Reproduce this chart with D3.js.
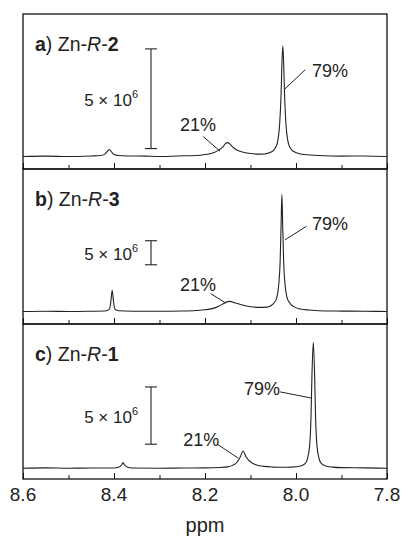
<!DOCTYPE html>
<html>
<head>
<meta charset="utf-8">
<script src="https://cdn.jsdelivr.net/npm/d3@7"></script>
<style>
  body { margin: 0; background: #fff; }
  text { font-family: "Liberation Sans", Arial, sans-serif; fill: #222; }
</style>
</head>
<body>
<svg id="chart" width="403" height="540"></svg>
<script>
// chemical shift axis
var ppmTicks = [8.6, 8.4, 8.2, 8.0, 7.8];
var ppmMinor = [8.5, 8.3, 8.1, 7.9];

// panel titles (bold letter, compound number)
var panelLetters = ["a", "b", "c"];
var panelNumbers = ["2", "3", "1"];

// spectra, intensity in units of 10^6
var ppmA = [8.60, 8.55, 8.50, 8.45, 8.43, 8.42, 8.415, 8.41, 8.405, 8.40, 8.39, 8.37, 8.33, 8.30, 8.26, 8.22, 8.20, 8.18, 8.17, 8.16, 8.155, 8.15, 8.145, 8.14, 8.13, 8.12, 8.10, 8.08, 8.07, 8.06, 8.05, 8.045, 8.04, 8.036, 8.033, 8.031, 8.029, 8.027, 8.025, 8.022, 8.018, 8.013, 8.005, 7.99, 7.97, 7.95, 7.90, 7.85, 7.80];
var intA = [0, 0.02, 0, 0.03, 0.05, 0.12, 0.25, 0.35, 0.22, 0.1, 0.05, 0.03, 0.02, 0, 0.03, 0.05, 0.1, 0.2, 0.32, 0.5, 0.65, 0.7, 0.62, 0.5, 0.33, 0.24, 0.15, 0.12, 0.13, 0.18, 0.3, 0.45, 0.8, 1.6, 3.0, 4.6, 5.55, 4.6, 3.0, 1.6, 0.8, 0.45, 0.25, 0.13, 0.08, 0.05, 0.02, 0.03, 0];

var ppmB = [8.60, 8.55, 8.50, 8.45, 8.42, 8.41, 8.407, 8.404, 8.401, 8.398, 8.39, 8.36, 8.30, 8.25, 8.22, 8.20, 8.18, 8.17, 8.16, 8.15, 8.145, 8.135, 8.12, 8.10, 8.08, 8.065, 8.055, 8.048, 8.042, 8.038, 8.035, 8.033, 8.031, 8.029, 8.027, 8.024, 8.02, 8.014, 8.005, 7.99, 7.97, 7.95, 7.90, 7.85, 7.80];
var intB = [0, 0.05, 0, 0.05, 0.1, 0.5, 2.0, 4.4, 2.0, 0.5, 0.15, 0.05, 0.05, 0.1, 0.2, 0.35, 0.7, 1.1, 1.6, 2.05, 2.1, 1.8, 1.4, 1.0, 0.85, 0.9, 1.2, 1.8, 3.0, 5.5, 10, 17, 24.3, 17, 10, 5.5, 3.0, 1.8, 1.0, 0.5, 0.3, 0.15, 0.08, 0.05, 0];

var ppmC = [8.60, 8.55, 8.50, 8.45, 8.40, 8.39, 8.383, 8.38, 8.377, 8.37, 8.36, 8.30, 8.25, 8.20, 8.17, 8.15, 8.14, 8.13, 8.123, 8.116, 8.11, 8.10, 8.09, 8.07, 8.05, 8.03, 8.01, 7.99, 7.98, 7.975, 7.970, 7.967, 7.965, 7.962, 7.959, 7.957, 7.954, 7.949, 7.944, 7.935, 7.92, 7.90, 7.85, 7.80];
var intC = [0, 0.03, 0, 0.02, 0.02, 0.08, 0.3, 0.5, 0.3, 0.08, 0.02, 0, 0.02, 0.03, 0.06, 0.12, 0.25, 0.5, 0.95, 1.5, 1.0, 0.55, 0.32, 0.16, 0.1, 0.08, 0.1, 0.2, 0.4, 0.8, 2.0, 4.5, 8, 11, 8, 4.5, 2.0, 0.8, 0.4, 0.2, 0.1, 0.05, 0.03, 0];

// scale bar (5 x 10^6) start value per panel
var barStart = [0.4, 9.7, 2.1];
var barSize = 5;

// y-range per panel (10^6)
var yTop = [7.15, 29.6, 12.6];
var yBottom = [-0.625, -2.6, -0.94];

// annotation anchors [ppm, value] per panel
var lbl21 = [[8.255, 1.3], [8.255, 4.3], [8.248, 1.96]];
var lead21 = [[8.204, 1.0, 8.167, 0.27], [8.1875, 3.7, 8.154, 1.75], [8.174, 2.13, 8.127, 0.88]];
var lbl79 = [[7.965, 4.0], [7.965, 17.0], [8.035, 6.4]];
var lead79 = [[7.980, 4.35, 8.024, 3.4], [7.977, 17.7, 8.024, 14.9], [8.035, 6.67, 7.967, 6.14]];

var spectra = [
  ppmA.map(function(p, i) { return [p, intA[i]]; }),
  ppmB.map(function(p, i) { return [p, intB[i]]; }),
  ppmC.map(function(p, i) { return [p, intC[i]]; })
];

var svg = d3.select("#chart");
var mLeft = 23, mRight = 387, mTop = 14;
var panelH = 155;

var x = d3.scaleLinear().domain([8.6, 7.8]).range([mLeft, mRight]);

spectra.forEach(function(spec, k) {
  var y0 = mTop + k * panelH;
  var y1 = y0 + panelH;
  var y = d3.scaleLinear().domain([yBottom[k], yTop[k]]).range([y1, y0]);
  var g = svg.append("g");

  // frame
  g.append("rect")
    .attr("x", mLeft).attr("y", y0)
    .attr("width", mRight - mLeft).attr("height", panelH)
    .attr("fill", "none").attr("stroke", "#111").attr("stroke-width", 1.3);

  // inward ticks on the bottom edge
  var ax = d3.axisBottom(x).tickValues(ppmTicks).tickSize(-6).tickFormat("");
  var axm = d3.axisBottom(x).tickValues(ppmMinor).tickSize(-4).tickFormat("");
  [ax, axm].forEach(function(a) {
    var t = g.append("g").attr("transform", "translate(0," + y1 + ")").call(a);
    t.select(".domain").remove();
    t.selectAll("line").attr("stroke", "#111").attr("stroke-width", 1);
  });

  // spectrum
  var line = d3.line()
    .x(function(d) { return x(d[0]); })
    .y(function(d) { return y(d[1]); })
    .curve(d3.curveMonotoneX);
  g.append("path").datum(spec)
    .attr("d", line)
    .attr("fill", "none").attr("stroke", "#222").attr("stroke-width", 1.1);

  // title
  var t = g.append("text").attr("x", 35).attr("y", y0 + 37).style("font-size", "19.5px");
  t.append("tspan").style("font-weight", "bold").text(panelLetters[k]);
  t.append("tspan").text(") Zn-");
  t.append("tspan").style("font-style", "italic").text("R");
  t.append("tspan").text("-");
  t.append("tspan").style("font-weight", "bold").text(panelNumbers[k]);

  // scale bar
  var bx = 151;
  var yb0 = y(barStart[k]), yb1 = y(barStart[k] + barSize);
  g.append("line").attr("x1", bx).attr("x2", bx).attr("y1", yb0).attr("y2", yb1)
    .attr("stroke", "#222").attr("stroke-width", 1.1);
  [yb0, yb1].forEach(function(v) {
    g.append("line").attr("x1", bx - 6).attr("x2", bx + 6).attr("y1", v).attr("y2", v)
      .attr("stroke", "#222").attr("stroke-width", 1.1);
  });
  var bl = g.append("text").attr("x", 138).attr("y", (yb0 + yb1) / 2 + 7)
    .attr("text-anchor", "end").style("font-size", "17px");
  bl.append("tspan").text("5 \u00d7 10");
  bl.append("tspan").attr("dy", -8).style("font-size", "11px").text("6");

  // percentage labels
  g.append("text").attr("x", x(lbl21[k][0])).attr("y", y(lbl21[k][1]))
    .style("font-size", "18px").text("21%");
  g.append("line")
    .attr("x1", x(lead21[k][0])).attr("y1", y(lead21[k][1]))
    .attr("x2", x(lead21[k][2])).attr("y2", y(lead21[k][3]))
    .attr("stroke", "#222").attr("stroke-width", 1);
  g.append("text").attr("x", x(lbl79[k][0])).attr("y", y(lbl79[k][1]))
    .attr("text-anchor", k === 2 ? "end" : "start")
    .style("font-size", "18px").text("79%");
  g.append("line")
    .attr("x1", x(lead79[k][0])).attr("y1", y(lead79[k][1]))
    .attr("x2", x(lead79[k][2])).attr("y2", y(lead79[k][3]))
    .attr("stroke", "#222").attr("stroke-width", 1);
});

// tick labels under the last panel
var yAxis = mTop + 3 * panelH;
svg.append("g").selectAll("text").data(ppmTicks).join("text")
  .attr("x", function(d) { return x(d); })
  .attr("y", yAxis + 22)
  .attr("text-anchor", "middle")
  .style("font-size", "19px")
  .text(function(d) { return d3.format(".1f")(d); });

svg.append("text").attr("x", (mLeft + mRight) / 2).attr("y", 532)
  .attr("text-anchor", "middle").style("font-size", "20px").text("ppm");
</script>
</body>
</html>
